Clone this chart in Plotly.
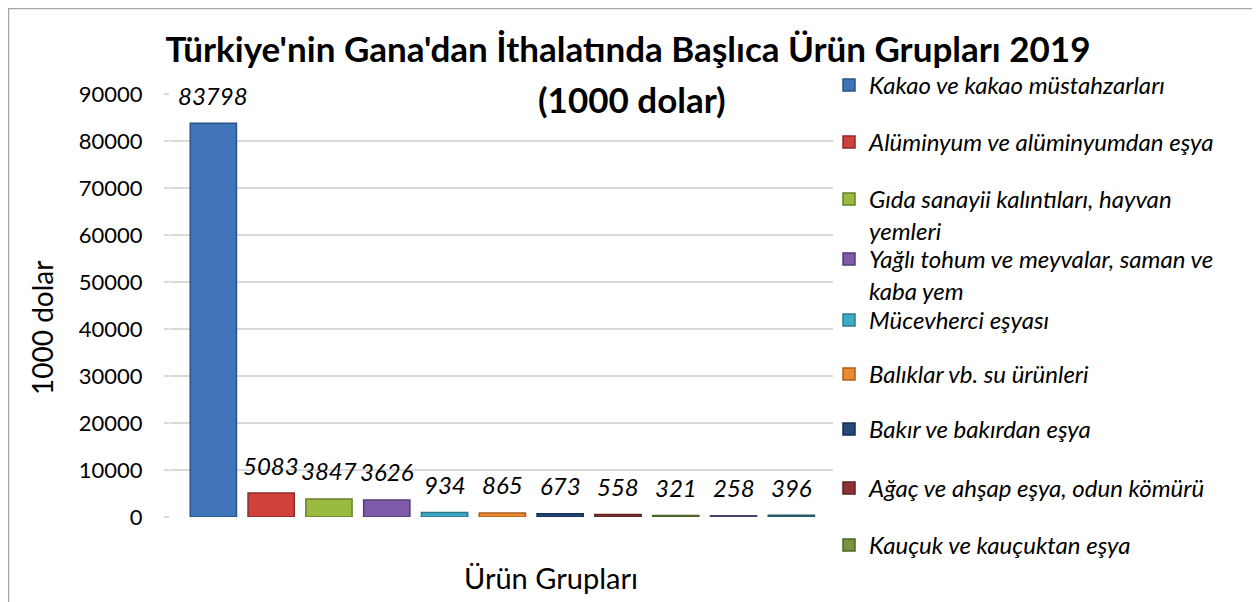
import plotly.graph_objects as go

# ---- data ----
categories = [
    "Kakao ve kakao müstahzarları",
    "Alüminyum ve alüminyumdan eşya",
    "Gıda sanayii kalıntıları, hayvan<br>yemleri",
    "Yağlı tohum ve meyvalar, saman ve<br>kaba yem",
    "Mücevherci eşyası",
    "Balıklar vb. su ürünleri",
    "Bakır ve bakırdan eşya",
    "Ağaç ve ahşap eşya, odun kömürü",
    "Kauçuk ve kauçuktan eşya",
    "Ürün grubu 10",
    "Ürün grubu 11",
]
values = [83798, 5083, 3847, 3626, 934, 865, 673, 558, 321, 258, 396]
in_legend = [True, True, True, True, True, True, True, True, True, False, False]
y_ticks = [0, 10000, 20000, 30000, 40000, 50000, 60000, 70000, 80000, 90000]

title_text = "Türkiye'nin Gana'dan İthalatında Başlıca Ürün Grupları 2019"
subtitle_text = "(1000 dolar)"
y_title = "1000 dolar"
x_title = "Ürün Grupları"

# ---- styles ----
colors = ["#3F74B8", "#D0413D", "#9BBB40", "#7E5BA8", "#3EA9C4", "#EE8A2E",
          "#234A7A", "#8E3334", "#77953F", "#76639A", "#337F98"]
edge = ["#2A5389", "#8E2A27", "#68802A", "#543C74", "#2A7A8E", "#A85F1C",
        "#152F50", "#5E2122", "#4F6429", "#4E4168", "#225566"]
FONT = "Lato"
W, H = 1252, 594          # page body has an 8px margin
OFF = 8
# plot area (figure pixels)
PL, PR, PT, PB = 170 - OFF, 833 - OFF, 94 - OFF, 517 - OFF
LEG_FONT = 24
legend_rows = [85, 142, 199, 259, 320, 374, 429, 488, 545]  # symbol centres (page px)


def px_x(px):
    return (px - OFF - PL) / (PR - PL)


def px_y(py):
    return (PB - (py - OFF)) / (PB - PT)


fig = go.Figure()
leg_i = 0
for i, (name, v) in enumerate(zip(categories, values)):
    leg_name = "legend" if leg_i == 0 else f"legend{leg_i + 1}"
    fig.add_trace(go.Bar(
        x=[i], y=[v], name=name, width=0.8,
        marker=dict(color=colors[i], line=dict(color=edge[i], width=1.5)),
        showlegend=in_legend[i], legend=leg_name if in_legend[i] else "legend",
    ))
    if in_legend[i]:
        top = legend_rows[leg_i] - OFF - (5 + (LEG_FONT * 1.3 + 3) / 2)
        fig.layout[leg_name] = dict(
            x=(829 - OFF) / W, y=1 - top / H, xref="container", yref="container",
            xanchor="left", yanchor="top", valign="top",
            bgcolor="rgba(0,0,0,0)",
            font=dict(family=FONT, size=LEG_FONT, color="#000000", style="italic"))
        leg_i += 1
    fig.add_annotation(x=i, y=v, xref="x", yref="y", text=str(v),
                       showarrow=False, yanchor="middle", yshift=28,
                       font=dict(family=FONT, size=24, color="#000000", style="italic"))

fig.add_annotation(text=subtitle_text, xref="paper", yref="paper",
                   x=px_x(632), y=px_y(99), xanchor="center", yanchor="middle",
                   showarrow=False, font=dict(family=FONT, size=35, color="#000000", weight="bold"))
fig.add_annotation(text=x_title, xref="paper", yref="paper",
                   x=px_x(551), y=px_y(577), xanchor="center", yanchor="middle",
                   showarrow=False, font=dict(family=FONT, size=29, color="#000000"))
fig.add_annotation(text=y_title, xref="paper", yref="paper", textangle=-90,
                   x=px_x(42), y=px_y(328), xanchor="center", yanchor="middle",
                   showarrow=False, font=dict(family=FONT, size=28, color="#000000"))

# chart border
fig.add_shape(type="rect", xref="paper", yref="paper",
              x0=px_x(8.5), x1=px_x(1257), y0=px_y(660), y1=px_y(8.5),
              line=dict(color="#A6A6A6", width=1.5), layer="below")

fig.update_layout(
    width=W, height=H,
    margin=dict(l=PL, r=W - PR, t=PT, b=H - PB, autoexpand=False),
    paper_bgcolor="white", plot_bgcolor="white",
    font=dict(family=FONT, color="#000000"),
    title=dict(text=title_text, x=(628 - OFF) / W, xanchor="center", xref="container",
               y=1 - (50 - OFF) / H, yanchor="middle", yref="container",
               font=dict(family=FONT, size=35, color="#000000", weight="bold")),
    xaxis=dict(range=[-0.75, 10.72], showticklabels=False, showgrid=False,
               zeroline=False, showline=False, ticks=""),
    yaxis=dict(range=[0, 90000], tickvals=y_ticks, ticktext=[str(t) for t in y_ticks],
               showgrid=True, gridcolor="#D9D9D9", gridwidth=2, zeroline=False,
               ticks="outside", ticklen=5, tickcolor="#D9D9D9", tickwidth=2,
               ticklabelstandoff=17,
               tickfont=dict(family=FONT, size=22, color="#000000")),
    bargap=0.2,
)

fig.write_html("out.html")
